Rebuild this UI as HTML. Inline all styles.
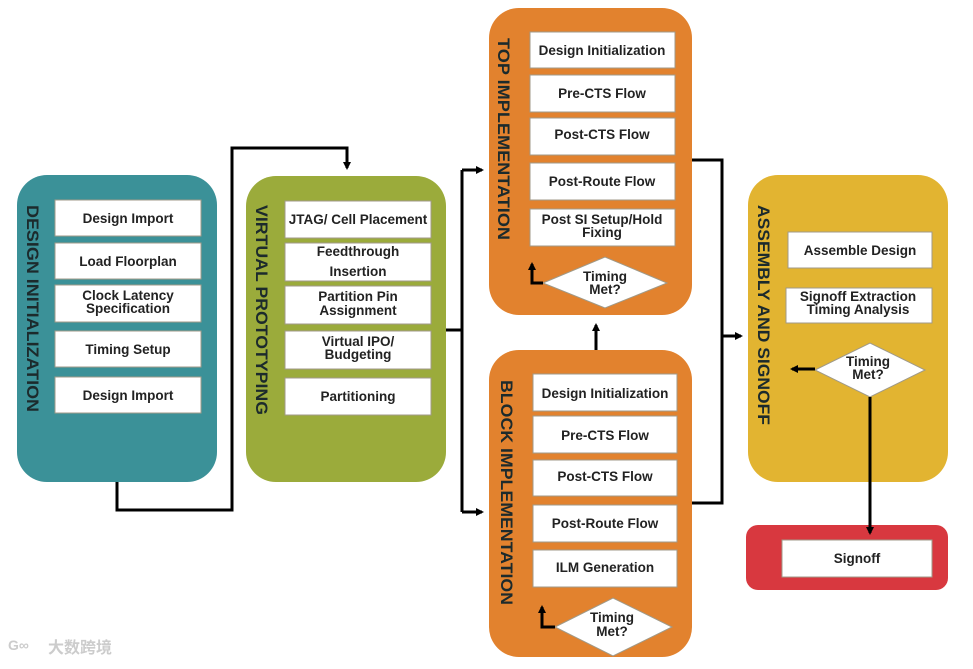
<!DOCTYPE html>
<html><head><meta charset="utf-8"><style>
body{margin:0;background:#fff;}
svg text{font-family:"Liberation Sans","Noto Sans CJK SC",sans-serif;font-weight:bold;}
</style></head><body>
<svg width="973" height="664" viewBox="0 0 973 664" xmlns="http://www.w3.org/2000/svg">
<defs><marker id="a" markerWidth="8" markerHeight="8" refX="6" refY="4" orient="auto" markerUnits="userSpaceOnUse"><path d="M0,0 L8,4 L0,8 z" fill="#000"/></marker></defs>
<rect x="17" y="175" width="200" height="307" rx="30" fill="#3b9198"/>
<rect x="246" y="176" width="200" height="306" rx="30" fill="#9bab3b"/>
<rect x="489" y="8" width="203" height="307" rx="30" fill="#e2822e"/>
<rect x="489" y="350" width="203" height="307" rx="30" fill="#e2822e"/>
<rect x="748" y="175" width="200" height="307" rx="30" fill="#e2b431"/>
<rect x="746" y="525" width="202" height="65" rx="12" fill="#d8383f"/>
<g fill="#1c2a2c" font-size="17">
<text transform="translate(27,205) rotate(90)" textLength="207" lengthAdjust="spacingAndGlyphs">DESIGN INITIALIZATION</text>
<text transform="translate(256,205) rotate(90)" textLength="210" lengthAdjust="spacingAndGlyphs">VIRTUAL PROTOTYPING</text>
<text transform="translate(498,38) rotate(90)" textLength="202" lengthAdjust="spacingAndGlyphs">TOP IMPLEMENTATION</text>
<text transform="translate(501,380) rotate(90)" textLength="225" lengthAdjust="spacingAndGlyphs">BLOCK IMPLEMENTATION</text>
<text transform="translate(758,205) rotate(90)" textLength="220" lengthAdjust="spacingAndGlyphs">ASSEMBLY AND SIGNOFF</text>
</g>
<g fill="#fff" stroke="#a09a88" stroke-width="1">
<rect x="55" y="200" width="146" height="36"/><rect x="55" y="243" width="146" height="36"/><rect x="55" y="285" width="146" height="37"/><rect x="55" y="331" width="146" height="36"/><rect x="55" y="377" width="146" height="36"/>
<rect x="285" y="201" width="146" height="37"/><rect x="285" y="243" width="146" height="38"/><rect x="285" y="286" width="146" height="38"/><rect x="285" y="331" width="146" height="38"/><rect x="285" y="378" width="146" height="37"/>
<rect x="530" y="32" width="145" height="36"/><rect x="530" y="75" width="145" height="37"/><rect x="530" y="118" width="145" height="37"/><rect x="530" y="163" width="145" height="37"/><rect x="530" y="209" width="145" height="37"/>
<rect x="533" y="374" width="144" height="37"/><rect x="533" y="416" width="144" height="37"/><rect x="533" y="460" width="144" height="36"/><rect x="533" y="505" width="144" height="37"/><rect x="533" y="550" width="144" height="37"/>
<rect x="788" y="232" width="144" height="36"/><rect x="786" y="288" width="146" height="35"/>
<rect x="782" y="540" width="150" height="37"/>
<polygon points="543,283 605,257 667,283 605,308"/>
<polygon points="555,627 613,598 672,627 613,656"/>
<polygon points="815,370 870,343 925,370 870,397"/>
</g>
<g fill="#222" font-size="13.5" text-anchor="middle">
<text x="128" y="223">Design Import</text><text x="128" y="266">Load Floorplan</text><text x="128" y="300">Clock Latency</text><text x="128" y="313">Specification</text><text x="128" y="354">Timing Setup</text><text x="128" y="400">Design Import</text>
<text x="358" y="224">JTAG/ Cell Placement</text><text x="358" y="256">Feedthrough</text><text x="358" y="276">Insertion</text><text x="358" y="301">Partition Pin</text><text x="358" y="315">Assignment</text><text x="358" y="346">Virtual IPO/</text><text x="358" y="359">Budgeting</text><text x="358" y="401">Partitioning</text>
<text x="602" y="55">Design Initialization</text><text x="602" y="98">Pre-CTS Flow</text><text x="602" y="139">Post-CTS Flow</text><text x="602" y="186">Post-Route Flow</text><text x="602" y="224">Post SI Setup/Hold</text><text x="602" y="237">Fixing</text>
<text x="605" y="281">Timing</text><text x="605" y="294">Met?</text>
<text x="605" y="398">Design Initialization</text><text x="605" y="440">Pre-CTS Flow</text><text x="605" y="481">Post-CTS Flow</text><text x="605" y="528">Post-Route Flow</text><text x="605" y="572">ILM Generation</text>
<text x="612" y="622">Timing</text><text x="612" y="636">Met?</text>
<text x="860" y="255">Assemble Design</text><text x="858" y="301">Signoff Extraction</text><text x="858" y="314">Timing Analysis</text>
<text x="868" y="366">Timing</text><text x="868" y="379">Met?</text>
<text x="857" y="563">Signoff</text>
</g>
<g stroke="#000" stroke-width="3" fill="none">
<polyline points="117,482 117,510 232,510 232,148 347,148 347,168" marker-end="url(#a)"/>
<polyline points="446,330 462,330"/>
<line x1="462" y1="170" x2="462" y2="512"/>
<line x1="462" y1="170" x2="482" y2="170" marker-end="url(#a)"/>
<line x1="462" y1="512" x2="482" y2="512" marker-end="url(#a)"/>
<polyline points="692,160 722,160 722,503 692,503"/>
<line x1="722" y1="336" x2="741" y2="336" marker-end="url(#a)"/>
<line x1="596" y1="350" x2="596" y2="325" marker-end="url(#a)"/>
<line x1="815" y1="369" x2="792" y2="369" marker-end="url(#a)"/>
<line x1="870" y1="397" x2="870" y2="533" marker-end="url(#a)"/>
<polyline points="543,283 532,283 532,264" marker-end="url(#a)"/>
<polyline points="555,627 542,627 542,607" marker-end="url(#a)"/>
</g>
<text x="48" y="653" font-size="16" fill="#ccc" font-weight="normal">大数跨境</text>
<text x="8" y="650" font-size="14" fill="#ccc" font-weight="normal">G∞</text>
</svg>
</body></html>
